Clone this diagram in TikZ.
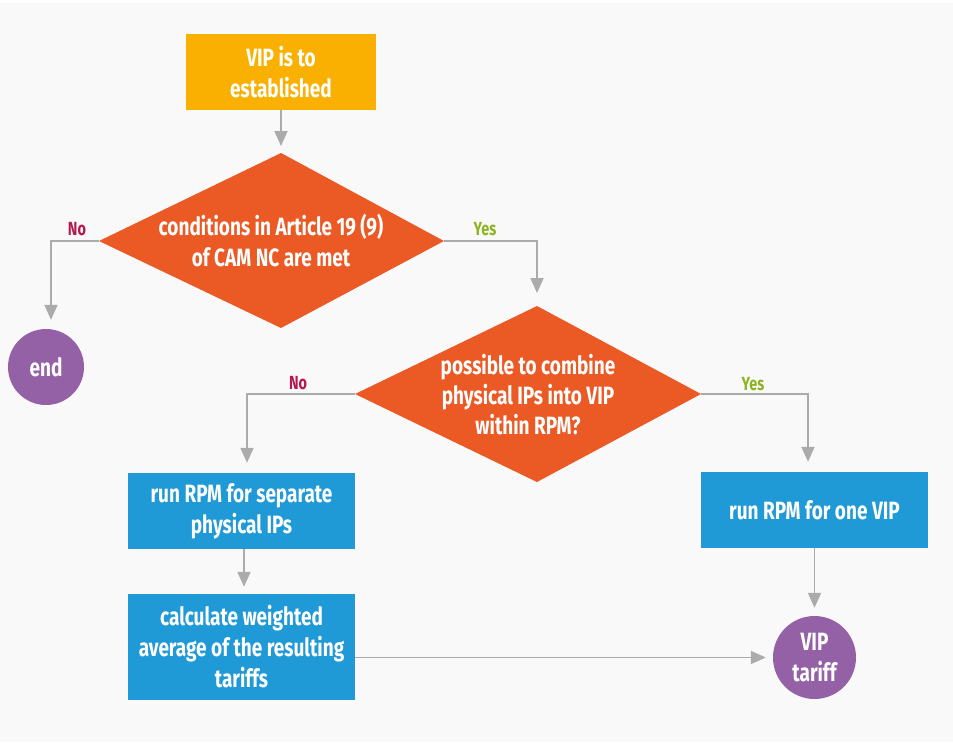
\documentclass[tikz,border=0pt]{standalone}
\usepackage{fontspec}
\setmainfont{Fira Sans}[FakeStretch=0.76]
\usetikzlibrary{arrows.meta}
\definecolor{bgc}{HTML}{F9F9F9}
\definecolor{cyellow}{HTML}{F9B000}
\definecolor{corange}{HTML}{EB5A25}
\definecolor{cblue}{HTML}{209AD6}
\definecolor{cpurple}{HTML}{9460A6}
\definecolor{cgray}{HTML}{ABABAB}
\definecolor{cno}{HTML}{B5174F}
\definecolor{cyes}{HTML}{8DB320}
\begin{document}
\begin{tikzpicture}[x=1pt,y=-1pt,
  txt/.style={text=white,font=\bfseries\fontsize{25}{31}\selectfont,align=center,inner sep=0pt},
  boxnode/.style={txt,rectangle,fill=cblue,minimum width=227pt,minimum height=76pt},
  roundnode/.style={txt,circle,fill=cpurple},
  conn/.style={draw=cgray,line width=1.8pt,-{Triangle[length=15pt,width=13pt]}},
  lab/.style={font=\bfseries\fontsize{19}{21}\selectfont,inner sep=0pt}]
\useasboundingbox (0,0) rectangle (953,742);
\fill[white] (0,0) rectangle (953,742);
\fill[bgc] (0,3) rectangle (953,742);

% start box
\node[txt,rectangle,fill=cyellow,minimum width=190pt,minimum height=76pt] (start) at (281,72) {VIP is to\\established};

% diamond 1
\fill[corange] (281,153) coordinate (d1t) -- (444,241) coordinate (d1r) -- (281,328) coordinate (d1b) -- (99,241) coordinate (d1l) -- cycle;
\node[txt] (d1) at (271,240) {conditions in Article 19\,(9)\\of CAM NC are met};

% diamond 2
\fill[corange] (537,306) coordinate (d2t) -- (701,394) coordinate (d2r) -- (537,482) coordinate (d2b) -- (355,394) coordinate (d2l) -- cycle;
\node[txt,font=\bfseries\fontsize{25}{30}\selectfont] (d2) at (528,395) {possible to combine\\physical IPs into VIP\\within RPM?};

% boxes
\node[boxnode] (sep) at (241.5,511) {run RPM for separate\\physical IPs};
\node[boxnode,minimum height=106pt] (calc) at (241.5,647) {calculate weighted\\average of the resulting\\tariffs};
\node[boxnode] (one) at (814.5,510) {run RPM for one VIP};

% terminals
\node[roundnode,minimum size=76pt] (endc) at (46,367) {end};
\node[roundnode,minimum size=83pt] (tariff) at (814.5,657.5) {VIP\\tariff};

% connectors
\draw[conn,shorten >=7pt] (start.south) -- (d1t);
\draw[conn,shorten >=9pt] (d1l) -| ([xshift=5pt]endc.north);
\draw[conn,shorten >=13pt] (d1r) -| (d2t);
\draw[conn,shorten >=10pt] (d2l) -| ([xshift=5.5pt]sep.north);
\draw[conn,shorten >=10pt] (d2r) -| ([xshift=-6.5pt]one.north);
\draw[conn,shorten >=8pt] (one.south) -- (tariff.north);
\draw[conn,shorten >=7pt] ([xshift=2.5pt]sep.south) -- ([xshift=2.5pt]calc.north);
\draw[conn,shorten >=7pt] (calc.east |- tariff.west) -- (tariff.west);

% labels
\node[lab,text=cno] (no1) at (77,229) {No};
\node[lab,text=cyes] (yes1) at (485,229) {Yes};
\node[lab,text=cno] (no2) at (298,383) {No};
\node[lab,text=cyes] (yes2) at (753,384) {Yes};
\end{tikzpicture}
\end{document}
